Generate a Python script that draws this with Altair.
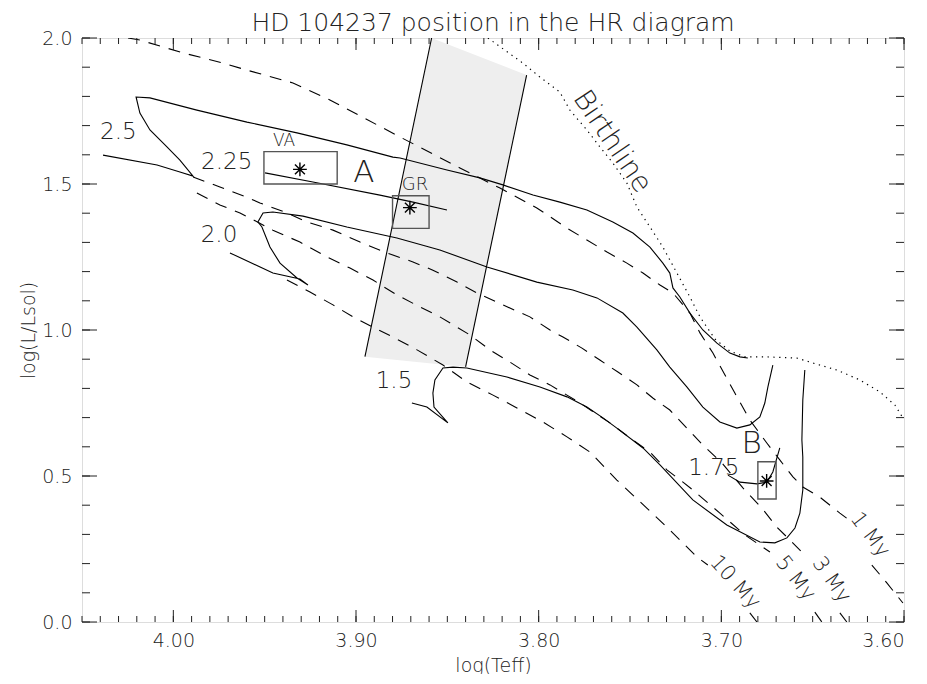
import altair as alt
import pandas as pd
import numpy as np

W, H = 822, 584
FONT = "DejaVu Sans"
FW = 200
TXT = "#222"
TITLE = "HD 104237 position in the HR diagram"

# ---------------- evolutionary tracks (solid) ----------------
t25_x = [4.0385, 4.0089, 3.9964, 3.9892, 3.9964, 4.0035, 4.0128, 4.0183, 4.0204, 4.0128, 3.9871, 3.9597,
         3.9323, 3.9050, 3.8798, 3.8759, 3.8502, 3.8322, 3.8196, 3.8031, 3.7884, 3.7736, 3.7594, 3.7484,
         3.7391, 3.7320, 3.7282, 3.7265, 3.7227, 3.7172, 3.7101, 3.7024, 3.6953, 3.6898, 3.6855]
t25_y = [1.599, 1.565, 1.541, 1.527, 1.582, 1.627, 1.685, 1.743, 1.798, 1.795, 1.753, 1.712,
         1.675, 1.634, 1.592, 1.589, 1.548, 1.521, 1.497, 1.462, 1.438, 1.411, 1.370, 1.332,
         1.284, 1.229, 1.195, 1.144, 1.113, 1.058, 1.000, 0.955, 0.921, 0.908, 0.904]

t225_x = [3.9498, 3.9236, 3.8869, 3.8688, 3.8502]
t225_y = [1.538, 1.507, 1.462, 1.438, 1.411]

t20_x = [3.9690, 3.9455, 3.9307, 3.9263, 3.9323, 3.9416, 3.9471, 3.9515, 3.9537, 3.9509, 3.9455, 3.9290,
         3.9050, 3.8776, 3.8541, 3.8283, 3.8010, 3.7813, 3.7681, 3.7539, 3.7462, 3.7353, 3.7282, 3.7189,
         3.7101, 3.7008, 3.6915, 3.6844, 3.6789, 3.6762, 3.6745, 3.6718]
t20_y = [1.264, 1.195, 1.175, 1.154, 1.178, 1.229, 1.284, 1.353, 1.370, 1.401, 1.404, 1.390,
         1.353, 1.315, 1.274, 1.216, 1.164, 1.137, 1.110, 1.058, 1.010, 0.932, 0.873, 0.805,
         0.736, 0.685, 0.664, 0.675, 0.702, 0.750, 0.805, 0.880]

t175_x = [3.6964, 3.6898, 3.6805, 3.6751, 3.6718, 3.6680]
t175_y = [0.503, 0.479, 0.473, 0.479, 0.514, 0.596]

t15_x = [3.8694, 3.8612, 3.8497, 3.8573, 3.8579, 3.8568, 3.8524, 3.8469, 3.8393, 3.8174, 3.7993, 3.7845,
         3.7736, 3.7648, 3.7572, 3.7429, 3.7336, 3.7156, 3.6970, 3.6789, 3.6707, 3.6641, 3.6597, 3.6570,
         3.6554, 3.6554, 3.6559, 3.6554, 3.6543]
t15_y = [0.750, 0.736, 0.682, 0.736, 0.784, 0.829, 0.870, 0.873, 0.870, 0.839, 0.805, 0.771,
         0.736, 0.699, 0.664, 0.596, 0.538, 0.418, 0.332, 0.274, 0.271, 0.288, 0.322, 0.373,
         0.452, 0.565, 0.623, 0.760, 0.863]

# ---------------- isochrones (dashed); seg 1 = part after the label gap ----------------
iso1_x = [4.0248, 4.0183, 3.9947, 3.9728, 3.9597, 3.9345, 3.9143, 3.8759, 3.8431, 3.8212, 3.8010, 3.7845,
          3.7736, 3.7626, 3.7517, 3.7429, 3.7336, 3.7265, 3.7172, 3.7117, 3.7046, 3.6926, 3.6844, 3.6751,
          3.6680, 3.6608, 3.6554, 3.6461, 3.6351, 3.6285, 3.6176, 3.6094, 3.6006]
iso1_y = [2.000, 1.993, 1.949, 1.914, 1.890, 1.846, 1.788, 1.661, 1.555, 1.486, 1.418, 1.349,
          1.308, 1.267, 1.229, 1.195, 1.154, 1.127, 1.058, 0.990, 0.921, 0.784, 0.692, 0.613,
          0.555, 0.497, 0.462, 0.428, 0.373, 0.342, 0.195, 0.134, 0.065]
iso1_seg = [0] * 30 + [1] * 3

iso3_x = [3.9892, 3.9745, 3.9597, 3.9526, 3.9378, 3.9268, 3.9126, 3.8978, 3.8831, 3.8688, 3.8579, 3.8447,
          3.8338, 3.8196, 3.8048, 3.7938, 3.7867, 3.7763, 3.7665, 3.7566, 3.7462, 3.7375, 3.7282, 3.7189,
          3.7101, 3.6997, 3.6882, 3.6778, 3.6696, 3.6641, 3.6543, 3.6351, 3.6313]
iso3_y = [1.524, 1.490, 1.455, 1.435, 1.401, 1.370, 1.342, 1.301, 1.264, 1.233, 1.205, 1.164,
          1.127, 1.086, 1.045, 1.000, 0.976, 0.938, 0.897, 0.856, 0.812, 0.767, 0.726, 0.664,
          0.606, 0.545, 0.459, 0.390, 0.325, 0.291, 0.229, 0.031, 0.000]
iso3_seg = [0] * 31 + [1] * 2

iso5_x = [3.9871, 3.9745, 3.9635, 3.9455, 3.9307, 3.9159, 3.9033, 3.8907, 3.8776, 3.8650, 3.8541, 3.8376,
          3.8267, 3.8157, 3.8048, 3.7938, 3.7774, 3.7610, 3.7484, 3.7391, 3.7298, 3.7210, 3.7156, 3.7008,
          3.6871, 3.6734, 3.6488, 3.6450]
iso5_y = [1.469, 1.428, 1.401, 1.342, 1.301, 1.250, 1.212, 1.171, 1.120, 1.079, 1.045, 0.983,
          0.932, 0.890, 0.846, 0.812, 0.750, 0.682, 0.623, 0.582, 0.521, 0.479, 0.452, 0.373,
          0.298, 0.240, 0.034, 0.000]
iso5_seg = [0] * 26 + [1] * 2

iso10_x = [3.9378, 3.9252, 3.9126, 3.9017, 3.8907, 3.8798, 3.8666, 3.8524, 3.8393, 3.8250, 3.8119, 3.7977,
           3.7845, 3.7719, 3.7572, 3.7408, 3.7298, 3.7227, 3.7134, 3.7074, 3.6844, 3.6805]
iso10_y = [1.171, 1.130, 1.086, 1.045, 1.010, 0.976, 0.932, 0.880, 0.822, 0.777, 0.733, 0.685,
           0.634, 0.582, 0.486, 0.390, 0.325, 0.281, 0.223, 0.195, 0.031, 0.000]
iso10_seg = [0] * 20 + [1] * 2

# ---------------- birthline (dotted) ----------------
birth_x = [3.8278, 3.8086, 3.7993, 3.7884, 3.7829, 3.7736, 3.7665, 3.7594, 3.7517, 3.7462, 3.7391, 3.7320,
           3.7243, 3.7172, 3.7117, 3.7035, 3.6953, 3.6871, 3.6762, 3.6587, 3.6499, 3.6368, 3.6242, 3.6132,
           3.6050, 3.6006]
birth_y = [2.000, 1.914, 1.866, 1.815, 1.753, 1.685, 1.627, 1.572, 1.503, 1.421, 1.353, 1.284,
           1.195, 1.113, 1.045, 0.969, 0.928, 0.908, 0.908, 0.904, 0.887, 0.863, 0.829, 0.788,
           0.743, 0.699]

# ---------------- instability strip ----------------
strip_x = [3.8951, 3.8586, 3.8400, 3.8066]
strip_lo = [0.9086, 0.8857, 0.8740, 1.8730]
strip_hi = [0.9086, 2.0000, 1.9546, 1.8730]
edgeL_x = [3.8586, 3.8951]
edgeL_y = [2.000, 0.9086]
edgeR_x = [3.8066, 3.8400]
edgeR_y = [1.873, 0.874]

# ---------------- error boxes and stars ----------------
box_x1 = [3.9504, 3.8800, 3.6800]
box_x2 = [3.9103, 3.8600, 3.6700]
box_y1 = [1.500, 1.348, 0.421]
box_y2 = [1.611, 1.460, 0.549]
star_x = [3.9307, 3.8705, 3.6752]
star_y = [1.550, 1.419, 0.483]

# ---------------- text labels ----------------
lab_text = ["2.5", "2.25", "2.0", "1.5", "1.75", "VA", "GR", "A", "B", "Birthline",
            "1 My", "3 My", "5 My", "10 My"]
lab_x = [4.0301, 3.9708, 3.9750, 3.8792, 3.7041, 3.9394, 3.8677, 3.8957, 3.6834, 3.7599,
         3.6187, 3.6398, 3.6595, 3.6926]
lab_y = [1.679, 1.576, 1.325, 0.825, 0.527, 1.646, 1.495, 1.536, 0.610, 1.644,
         0.298, 0.144, 0.149, 0.135]
lab_size = [23, 23, 23, 23, 23, 17, 18, 31, 31, 28, 21, 21, 21, 21]
lab_angle = [0, 0, 0, 0, 0, 0, 0, 0, 0, 56, 53, 55, 52, 48]

# ---------------- axes ----------------
x_major = [4.00, 3.90, 3.80, 3.70, 3.60]
y_major = [0.0, 0.5, 1.0, 1.5, 2.0]
x_minor = [round(v, 2) for v in np.arange(3.60, 4.0501, 0.01)]
y_minor = [round(v, 1) for v in np.arange(0.0, 2.001, 0.1)]

xs = alt.Scale(domain=[4.05, 3.60], nice=False, zero=False)
ys = alt.Scale(domain=[0.0, 2.0], nice=False, zero=False)

AXX = alt.Axis(values=x_major, format=".2f", ticks=False, domain=False, grid=False,
               labelFont=FONT, labelFontWeight=FW, labelFontSize=19, labelColor=TXT, labelPadding=9,
               title="log(Teff)", titleFont=FONT, titleFontWeight=FW, titleFontSize=19,
               titleColor=TXT, titlePadding=6)
AXY = alt.Axis(values=y_major, format=".1f", ticks=False, domain=False, grid=False,
               labelFont=FONT, labelFontWeight=FW, labelFontSize=19, labelColor=TXT, labelPadding=10,
               title="log(L/Lsol)", titleFont=FONT, titleFontWeight=FW, titleFontSize=19,
               titleColor=TXT, titlePadding=3)


def X(f):
    return alt.X(f, scale=xs, axis=AXX)


def Y(f):
    return alt.Y(f, scale=ys, axis=AXY)


def frame(xv, yv, **cols):
    d = pd.DataFrame({"x": xv, "y": yv})
    d["i"] = range(len(d))
    for k, v in cols.items():
        d[k] = v
    return d


tracks = pd.concat([
    frame(t25_x, t25_y, name="2.5"),
    frame(t225_x, t225_y, name="2.25"),
    frame(t20_x, t20_y, name="2.0"),
    frame(t175_x, t175_y, name="1.75"),
    frame(t15_x, t15_y, name="1.5"),
    frame(edgeL_x, edgeL_y, name="stripL"),
    frame(edgeR_x, edgeR_y, name="stripR"),
])

isos = pd.concat([
    frame(iso1_x, iso1_y, name=[f"1_{s}" for s in iso1_seg]),
    frame(iso3_x, iso3_y, name=[f"3_{s}" for s in iso3_seg]),
    frame(iso5_x, iso5_y, name=[f"5_{s}" for s in iso5_seg]),
    frame(iso10_x, iso10_y, name=[f"10_{s}" for s in iso10_seg]),
])

birth = frame(birth_x, birth_y)
strip = pd.DataFrame({"x": strip_x, "lo": strip_lo, "hi": strip_hi})
boxes = pd.DataFrame({"x1": box_x1, "x2": box_x2, "y1": box_y1, "y2": box_y2})
stars = pd.DataFrame({"x": star_x, "y": star_y})
labels = pd.DataFrame({"x": lab_x, "y": lab_y, "t": lab_text, "s": lab_size, "a": lab_angle})

strip_layer = alt.Chart(strip).mark_area(color="#eeeeee", opacity=1, clip=True).encode(
    x=X("x:Q"), y=Y("lo:Q"), y2="hi:Q")

track_layer = alt.Chart(tracks).mark_line(color="black", strokeWidth=1.1, clip=True).encode(
    x=X("x:Q"), y=Y("y:Q"), detail="name:N", order="i:Q")

iso_layer = alt.Chart(isos).mark_line(color="black", strokeWidth=1.1, strokeDash=[12, 9], clip=True).encode(
    x=X("x:Q"), y=Y("y:Q"), detail="name:N", order="i:Q")

birth_layer = alt.Chart(birth).mark_line(color="black", strokeWidth=1.2, strokeDash=[1.3, 4.5], clip=True).encode(
    x=X("x:Q"), y=Y("y:Q"), order="i:Q")

box_layer = alt.Chart(boxes).mark_rect(filled=False, stroke="#555", strokeWidth=1.4).encode(
    x=X("x1:Q"), x2="x2:Q", y=Y("y1:Q"), y2="y2:Q")

STAR = "M-1,0L1,0M0,-1L0,1M-0.72,-0.72L0.72,0.72M-0.72,0.72L0.72,-0.72"
star_layer = alt.Chart(stars).mark_point(shape=STAR, size=190, filled=False, stroke="black",
                                         strokeWidth=1.4, opacity=1).encode(x=X("x:Q"), y=Y("y:Q"))

text_layer = alt.Chart(labels).mark_text(font=FONT, fontWeight=FW, color=TXT, align="center",
                                         baseline="middle").encode(
    x=X("x:Q"), y=Y("y:Q"), text="t:N",
    size=alt.Size("s:Q", scale=None, legend=None),
    angle=alt.Angle("a:Q", scale=None, legend=None))

title_layer = alt.Chart(pd.DataFrame({"t": [TITLE]})).mark_text(
    font=FONT, fontWeight=FW, fontSize=25, color=TXT, align="center", baseline="middle").encode(
    text="t:N", x=alt.value(W / 2), y=alt.value(-15))

xmaj = pd.DataFrame({"v": x_major})
xmin = pd.DataFrame({"v": x_minor})
ymaj = pd.DataFrame({"v": y_major})
ymin = pd.DataFrame({"v": y_minor})


def xticks(df, L):
    base = alt.Chart(df).mark_rule(color="#222", strokeWidth=1)
    return (base.encode(x=X("v:Q"), y=alt.value(H), y2=alt.value(H - L)) +
            base.encode(x=X("v:Q"), y=alt.value(0), y2=alt.value(L)))


def yticks(df, L):
    base = alt.Chart(df).mark_rule(color="#222", strokeWidth=1)
    return (base.encode(y=Y("v:Q"), x=alt.value(0), x2=alt.value(L)) +
            base.encode(y=Y("v:Q"), x=alt.value(W), x2=alt.value(W - L)))


chart = alt.layer(
    strip_layer, track_layer, iso_layer, birth_layer, box_layer, star_layer, text_layer, title_layer,
    xticks(xmaj, 12), xticks(xmin, 6), yticks(ymaj, 15), yticks(ymin, 8),
).properties(
    width=W, height=H,
    autosize=alt.AutoSizeParams(type="none"),
    padding={"left": 74, "top": 30, "right": 12, "bottom": 52},
).configure_view(stroke="#222", strokeWidth=1.5).configure(background="white")

chart.save("out.html", embed_options={"renderer": "svg", "actions": False})
